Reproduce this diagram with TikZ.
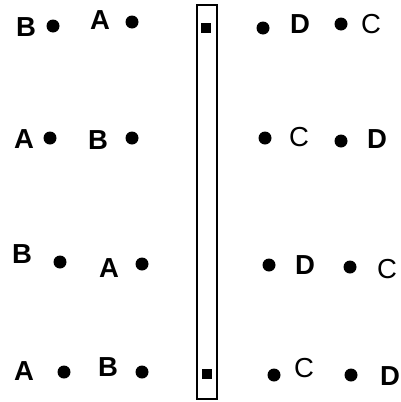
\documentclass[tikz,border=0pt]{standalone}
\usepackage{fontspec}
\setmainfont{Liberation Sans}
\usepackage{tikz}
\usetikzlibrary{positioning}

\tikzset{
    dot/.style={circle, fill=black, inner sep=0pt, minimum size=13pt},
    mark box/.style={fill=black, inner sep=0pt, minimum size=10pt},
    lab/.style={inner sep=0pt, font=\fontsize{27.5}{31}\selectfont\bfseries},
    labthin/.style={inner sep=0pt, font=\fontsize{27.5}{31}\selectfont},
}

\begin{document}
\begin{tikzpicture}[x=1pt, y=-1pt]

    \useasboundingbox (0,0) rectangle (400,402);

    %middle bar
    \node[draw, line width=1.3pt, minimum width=20pt, minimum height=394pt, inner sep=0pt] (bar) at (207,202) {};
    \node[mark box] (sqtop) at (206,28) {};
    \node[mark box] (sqbot) at (207,374) {};

    %dots
    \foreach \x/\y/\n in {53/26/d11, 132/22/d12, 263/28/d13, 341/24/d14,
                          50/138/d21, 132/138/d22, 265/138/d23, 341/141/d24,
                          60/262/d31, 142/264/d32, 269/265/d33, 350/267/d34,
                          64/372/d41, 142/372/d42, 274/375/d43, 351/375/d44}
        \node[dot] (\n) at (\x,\y) {};

    %labels
    \node[lab] (b1) at (26,27) {B};
    \node[lab] (a1) at (100,20) {A};
    \node[lab] (dd1) at (300,24) {D};
    \node[labthin] (c1) at (371,24) {C};

    \node[lab] (a2) at (24,139) {A};
    \node[lab] (b2) at (98,140) {B};
    \node[labthin] (c2) at (299,137) {C};
    \node[lab] (dd2) at (377,139) {D};

    \node[lab] (b3) at (22,254) {B};
    \node[lab] (a3) at (109,268) {A};
    \node[lab] (dd3) at (305,265) {D};
    \node[labthin] (c3) at (387,269) {C};

    \node[lab] (a4) at (24,371) {A};
    \node[lab] (b4) at (108,367) {B};
    \node[labthin] (c4) at (304,368) {C};
    \node[lab] (dd4) at (390,376) {D};

\end{tikzpicture}
\end{document}
